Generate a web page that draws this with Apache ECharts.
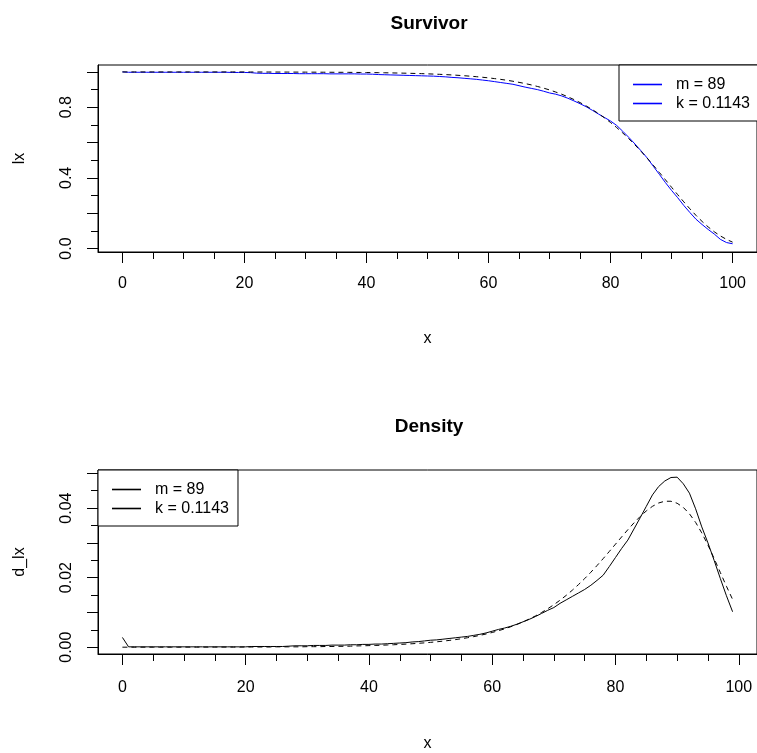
<!DOCTYPE html>
<html>
<head>
<meta charset="utf-8">
<script src="https://cdn.jsdelivr.net/npm/echarts@6/dist/echarts.min.js"></script>
<style>
html,body{margin:0;padding:0;background:#fff;}
#chart{width:757px;height:753px;}
</style>
</head>
<body>
<div id="chart"></div>
<script>
// ---------- data ----------
const survAges = [0,1,2,3,4,5,6,7,8,9,10,11,12,13,14,15,16,17,18,19,20,21,22,23,24,25,26,27,28,29,30,31,32,33,34,35,36,37,38,39,40,41,42,43,44,45,46,47,48,49,50,51,52,53,54,55,56,57,58,59,60,61,62,63,64,65,66,67,68,69,70,71,72,73,74,75,76,77,78,79,80,81,82,83,84,85,86,87,88,89,90,91,92,93,94,95,96,97,98,99,100];

const survObserved = [
 1.000,0.998,0.998,0.998,0.998,0.998,0.998,0.998,0.998,0.998,
 0.998,0.998,0.998,0.998,0.998,0.998,0.998,0.998,0.997,0.997,
 0.997,0.996,0.993,0.992,0.992,0.991,0.991,0.991,0.991,0.990,
 0.990,0.990,0.990,0.990,0.989,0.989,0.989,0.989,0.989,0.988,
 0.988,0.987,0.985,0.984,0.983,0.982,0.981,0.980,0.979,0.978,
 0.977,0.976,0.974,0.972,0.969,0.967,0.964,0.961,0.958,0.954,
 0.950,0.945,0.940,0.935,0.930,0.922,0.914,0.907,0.900,0.891,
 0.881,0.874,0.864,0.851,0.836,0.820,0.803,0.783,0.762,0.742,
 0.722,0.697,0.664,0.629,0.592,0.553,0.513,0.466,0.420,0.373,
 0.329,0.288,0.244,0.204,0.166,0.136,0.108,0.082,0.052,0.034,
 0.027];

const survModel = [
 1.000,1.000,1.000,1.000,1.000,1.000,1.000,1.000,1.000,1.000,
 1.000,1.000,1.000,1.000,1.000,1.000,1.000,1.000,1.000,1.000,
 1.000,0.9996,0.9995,0.9995,0.9994,0.9993,0.9992,0.9991,0.9990,0.9989,
 0.9988,0.9986,0.9985,0.9983,0.9981,0.9979,0.9978,0.9976,0.9973,0.9969,
 0.9965,0.9961,0.9956,0.9951,0.9945,0.9938,0.9931,0.9923,0.9913,0.9903,
 0.9891,0.9878,0.9863,0.9847,0.9829,0.9808,0.9785,0.9759,0.9731,0.9698,
 0.9663,0.9622,0.9578,0.9528,0.9472,0.9410,0.9341,0.9265,0.9179,0.9085,
 0.8980,0.8863,0.8735,0.8593,0.8436,0.8265,0.8076,0.7870,0.7645,0.7400,
 0.7135,0.6850,0.6542,0.6215,0.5867,0.5501,0.5117,0.4718,0.4308,0.3890,
 0.3469,0.3052,0.2644,0.2250,0.1878,0.1534,0.1223,0.0948,0.0713,0.0518,
 0.0362];

const densAges = [0,1,2,3,4,5,6,7,8,9,10,11,12,13,14,15,16,17,18,19,20,21,22,23,24,25,26,27,28,29,30,31,32,33,34,35,36,37,38,39,40,41,42,43,44,45,46,47,48,49,50,51,52,53,54,55,56,57,58,59,60,61,62,63,64,65,66,67,68,69,70,71,72,73,74,75,76,77,78,79,80,81,82,83,84,85,86,87,88,89,90,91,92,93,94,95,96,97,98,99];

const densObserved = [
 0.0028,0.0001,0.0001,0.0001,0.0001,0.0001,0.0001,0.0001,0.0001,0.0001,
 0.0001,0.0001,0.0001,0.0001,0.0001,0.0001,0.0001,0.0001,0.0001,0.0001,
 0.0001,0.0002,0.0002,0.0002,0.0002,0.0002,0.0002,0.0003,0.0004,0.0004,
 0.0004,0.0005,0.0005,0.0005,0.0006,0.0006,0.0006,0.0007,0.0007,0.0008,
 0.0008,0.0009,0.0009,0.0010,0.0011,0.0012,0.0013,0.0015,0.0016,0.0018,
 0.0020,0.0021,0.0023,0.0025,0.0027,0.0029,0.0031,0.0034,0.0037,0.0041,
 0.0046,0.0051,0.0055,0.0060,0.0066,0.0073,0.0080,0.0088,0.0097,0.0106,
 0.0114,0.0126,0.0136,0.0146,0.0156,0.0166,0.0178,0.0192,0.0207,0.0232,
 0.0258,0.0284,0.0308,0.0340,0.0372,0.0405,0.0438,0.0462,0.0478,0.0488,
 0.0489,0.0470,0.0443,0.0398,0.0346,0.0300,0.0250,0.0198,0.0148,0.0102];

const densModel = [
 0.0000,0.0000,0.0000,0.0000,0.0000,0.0000,0.0000,0.0000,0.0000,0.0000,
 0.00002,0.00002,0.00002,0.00002,0.00002,0.00003,0.00003,0.00003,0.00003,0.00003,
 0.00005,0.00005,0.00005,0.00005,0.00005,0.0001,0.0001,0.0001,0.0001,0.0001,
 0.00015,0.00015,0.00015,0.0002,0.0002,0.00025,0.00025,0.0003,0.00036,0.00040,
 0.00045,0.00050,0.00056,0.00063,0.00070,0.00079,0.00088,0.00099,0.00111,0.00124,
 0.00139,0.00155,0.00174,0.00194,0.00217,0.00243,0.00272,0.00304,0.00339,0.00379,
 0.00423,0.00472,0.00527,0.00587,0.00654,0.00728,0.00809,0.00898,0.00997,0.01105,
 0.01222,0.01351,0.01489,0.01639,0.01801,0.01972,0.02155,0.02347,0.02547,0.02753,
 0.02963,0.03172,0.03378,0.03575,0.03758,0.03919,0.04051,0.04147,0.04198,0.04197,
 0.04140,0.04020,0.03836,0.03589,0.03287,0.02938,0.02553,0.02152,0.01753,0.01374];

const xTicks = [0,20,40,60,80,100];
const xMinorTicks = [5,10,15,25,30,35,45,50,55,65,70,75,85,90,95];
const lxTicks = [0,0.2,0.4,0.6,0.8,1.0];
const lxLabels = [0,0.4,0.8];
const lxMinorTicks = [0.1,0.3,0.5,0.7,0.9];
const dTicks = [0,0.01,0.02,0.03,0.04,0.05];
const dLabels = [0,0.02,0.04];
const dMinorTicks = [0.005,0.015,0.025,0.035,0.045];

const legendNames = {lx_m:'m = 89', lx_k:'k = 0.1143', d_m:'m = 89', d_k:'k = 0.1143'};

// ---------- chart ----------
const FONT = '"Liberation Sans", Arial, Helvetica, sans-serif';
const BLACK = '#000000';
const BLUE = '#0000FF';

function xAxisPair(grid, min, max, labelMargin, nameGap) {
  return [
    {
      gridIndex: grid, type: 'value', position: 'bottom', min: min, max: max,
      splitLine: {show: false},
      axisLine: {show: true, onZero: false, lineStyle: {color: BLACK, width: 1}},
      axisTick: {show: true, customValues: xTicks, length: 11, lineStyle: {color: BLACK, width: 1}},
      axisLabel: {show: true, customValues: xTicks, margin: labelMargin, color: BLACK, fontSize: 16, fontFamily: FONT},
      name: 'x', nameLocation: 'middle', nameGap: nameGap,
      nameTextStyle: {color: BLACK, fontSize: 16, fontFamily: FONT}
    },
    {
      gridIndex: grid, type: 'value', position: 'bottom', min: min, max: max,
      splitLine: {show: false},
      axisLine: {show: false, onZero: false},
      axisTick: {show: true, customValues: xMinorTicks, length: 7, lineStyle: {color: BLACK, width: 1}},
      axisLabel: {show: false}
    }
  ];
}

function yAxisPair(grid, min, max, ticks, labels, minor, digits, name, nameGap) {
  return [
    {
      gridIndex: grid, type: 'value', position: 'left', min: min, max: max,
      splitLine: {show: false},
      axisLine: {show: true, onZero: false, lineStyle: {color: BLACK, width: 1}},
      axisTick: {show: true, customValues: ticks, length: 11, lineStyle: {color: BLACK, width: 1}},
      axisLabel: {show: true, customValues: labels, rotate: 90, margin: 23, color: BLACK,
                  fontSize: 16, fontFamily: FONT, formatter: v => Number(v).toFixed(digits)},
      name: name, nameLocation: 'middle', nameGap: nameGap, nameRotate: 90,
      nameTextStyle: {color: BLACK, fontSize: 16, fontFamily: FONT}
    },
    {
      gridIndex: grid, type: 'value', position: 'left', min: min, max: max,
      splitLine: {show: false},
      axisLine: {show: false, onZero: false},
      axisTick: {show: true, customValues: minor, length: 7, lineStyle: {color: BLACK, width: 1}},
      axisLabel: {show: false}
    }
  ];
}

// legend whose line sample is drawn as a rich-text token
function legendBox(left, top, names, color) {
  return {
    left: left, top: top, orient: 'vertical', selectedMode: false,
    data: names.map(n => ({name: n})),
    icon: 'none',
    formatter: n => '{ln| }{t|' + legendNames[n] + '}',
    itemWidth: 0, itemHeight: 1, itemGap: 0,
    padding: [10, 9, 8, 9],
    borderColor: BLACK, borderWidth: 1, backgroundColor: '#ffffff',
    textStyle: {
      color: BLACK, fontSize: 16, fontFamily: FONT, lineHeight: 19,
      rich: {
        ln: {width: 29, height: 1.6, lineHeight: 19, backgroundColor: color},
        t: {color: BLACK, fontSize: 16, fontFamily: FONT, lineHeight: 19, padding: [0, 0, 0, 14]}
      }
    }
  };
}

function pairs(xs, ys) { return xs.map((x, i) => [x, ys[i]]); }

function legendDummy(name, color, xi, yi) {
  return {name: name, type: 'line', xAxisIndex: xi, yAxisIndex: yi, symbol: 'none', silent: true,
          data: [], color: color, lineStyle: {color: color, width: 1}, itemStyle: {color: color}};
}

const chart = echarts.init(document.getElementById('chart'), null, {renderer: 'canvas', width: 757, height: 753});

const option = {
  backgroundColor: '#ffffff',
  animation: false,
  title: [
    {text: 'Survivor', left: 429, top: 14, textAlign: 'center', padding: 0,
     textStyle: {color: BLACK, fontSize: 19, fontWeight: 'bold', fontFamily: FONT}},
    {text: 'Density', left: 429, top: 417, textAlign: 'center', padding: 0,
     textStyle: {color: BLACK, fontSize: 19, fontWeight: 'bold', fontFamily: FONT}}
  ],
  grid: [
    {left: 98, top: 65, width: 661, height: 187, show: true, borderColor: BLACK, borderWidth: 1, backgroundColor: 'transparent'},
    {left: 98, top: 470, width: 661, height: 186, show: true, borderColor: BLACK, borderWidth: 1, backgroundColor: 'transparent'}
  ],
  xAxis: [].concat(xAxisPair(0, -4, 104, 24, 79), xAxisPair(1, -3.96, 102.96, 26, 82)),
  yAxis: [].concat(
    yAxisPair(0, -0.0196, 1.0392, lxTicks, lxLabels, lxMinorTicks, 1, 'lx', 70),
    yAxisPair(1, -0.00196, 0.05096, dTicks, dLabels, dMinorTicks, 2, 'd_lx', 70)
  ),
  legend: [
    legendBox(619, 65, ['lx_m', 'lx_k'], BLUE),
    legendBox(98, 470, ['d_m', 'd_k'], BLACK)
  ],
  series: [
    legendDummy('lx_m', BLUE, 0, 0),
    legendDummy('lx_k', BLUE, 0, 0),
    legendDummy('d_m', BLACK, 2, 2),
    legendDummy('d_k', BLACK, 2, 2),
    {name: 'lx_model', type: 'line', xAxisIndex: 0, yAxisIndex: 0, symbol: 'none', silent: true,
     data: pairs(survAges, survModel), lineStyle: {color: BLACK, width: 1, type: [5, 4]}, itemStyle: {color: BLACK}, z: 3},
    {name: 'lx_obs', type: 'line', xAxisIndex: 0, yAxisIndex: 0, symbol: 'none', silent: true,
     data: pairs(survAges, survObserved), lineStyle: {color: BLUE, width: 1}, itemStyle: {color: BLUE}, z: 2},
    {name: 'd_model', type: 'line', xAxisIndex: 2, yAxisIndex: 2, symbol: 'none', silent: true,
     data: pairs(densAges, densModel), lineStyle: {color: BLACK, width: 1, type: [5, 4]}, itemStyle: {color: BLACK}, z: 3},
    {name: 'd_obs', type: 'line', xAxisIndex: 2, yAxisIndex: 2, symbol: 'none', silent: true,
     data: pairs(densAges, densObserved), lineStyle: {color: BLACK, width: 1}, itemStyle: {color: BLACK}, z: 2}
  ]
};
chart.setOption(option);
</script>
</body>
</html>
